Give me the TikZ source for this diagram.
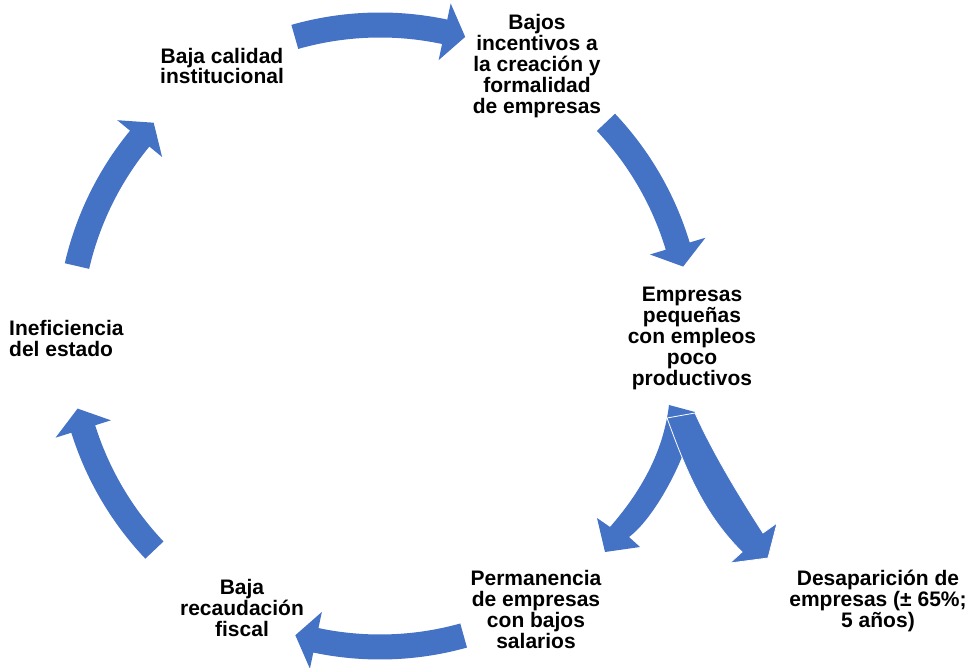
\documentclass[tikz,border=0pt]{standalone}
\usepackage{fontspec}
\setmainfont{Liberation Sans}
\usetikzlibrary{calc}
\definecolor{arrowblue}{HTML}{4472C4}
\lineskiplimit=-50pt
\newcommand{\cyclearrow}[2]{%
  \pgfmathsetmacro\hbase{#2+3.9}%
  \fill[arrowblue] ($(C)+(#1:323.5pt)$) arc[start angle=#1, end angle=\hbase, radius=323.5pt]
    -- ($(C)+(\hbase:340pt)$) -- ($(C)+(#2:311pt)$) -- ($(C)+(\hbase:282pt)$)
    -- ($(C)+(\hbase:298.5pt)$) arc[start angle=\hbase, end angle=#1, radius=298.5pt] -- cycle;}
\begin{document}
\begin{tikzpicture}[x=1pt,y=1pt,
  lbl/.style={inner sep=0pt, align=center, font=\fontsize{21}{21}\selectfont\bfseries}]
\useasboundingbox (0,0) rectangle (972,667);
\coordinate (C) at (380,331);
% cycle arrows
\cyclearrow{105.9}{74.1}
\cyclearrow{43.4}{12.9}
\cyclearrow{285.6}{254.2}
\cyclearrow{223.5}{193.5}
\cyclearrow{167}{136.7}
% branch arrows
\coordinate (L0) at (669,262);
\coordinate (L1) at (695,255);
\coordinate (R0) at (667,249);
\coordinate (R1) at (695,254);
\fill[arrowblue] (L0) .. controls (664,220) and (645,180) .. (610,140)
  -- (597,149) -- (605,115) -- (640,120) -- (629,130)
  .. controls (656,150) and (690,215) .. (L1) -- cycle;
\filldraw[fill=arrowblue, draw=white, line width=0.8pt] (R0) .. controls (686,197) and (703,154) .. (742,115)
  -- (730,104) -- (768,109) -- (777,144) -- (763,134)
  .. controls (738.7,171.8) and (713.5,213) .. (R1) -- cycle;
% labels
\node[lbl] (calidad) at (222,601) {Baja calidad\\institucional};
\node[lbl] (incentivos) at (537,601) {Bajos\\incentivos a\\la creación y\\formalidad\\de empresas};
\node[lbl] (pequenas) at (692,329) {Empresas\\pequeñas\\con empleos\\poco\\productivos};
\node[lbl, align=left, anchor=west] (ineficiencia) at (9,329) {Ineficiencia\\del estado};
\node[lbl] (recaudacion) at (242,59) {Baja\\recaudación\\fiscal};
\node[lbl] (permanencia) at (536,58) {Permanencia\\de empresas\\con bajos\\salarios};
\node[lbl] (desaparicion) at (878,66) {Desaparición de\\empresas (± 65\%;\\5 años)};
\end{tikzpicture}
\end{document}
